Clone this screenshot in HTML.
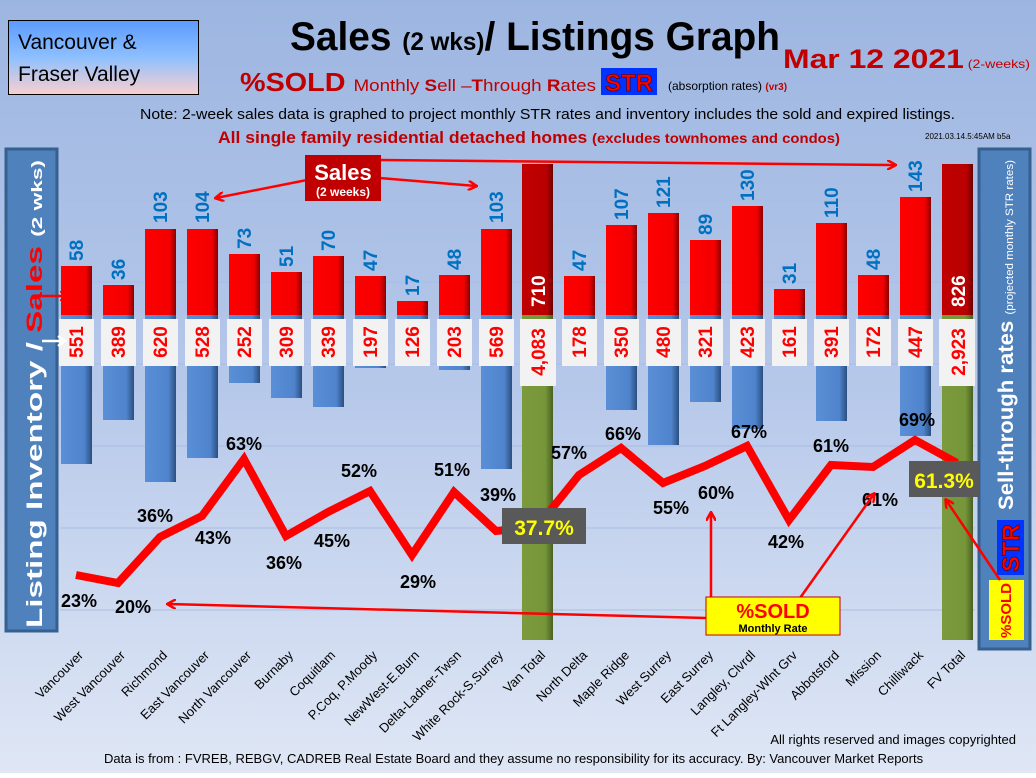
<!DOCTYPE html>
<html><head><meta charset="utf-8"><style>
html,body{margin:0;padding:0;}
body{width:1036px;height:773px;overflow:hidden;font-family:"Liberation Sans",sans-serif;}
</style></head><body>
<svg width="1036" height="773" viewBox="0 0 1036 773" xmlns="http://www.w3.org/2000/svg" font-family="Liberation Sans, sans-serif">
<defs>
<linearGradient id="bg" x1="0" y1="0" x2="0" y2="1"><stop offset="0" stop-color="#9db6e1"/><stop offset="0.5" stop-color="#b6c8ea"/><stop offset="1" stop-color="#dfe7f5"/></linearGradient>
<linearGradient id="tb" x1="0" y1="0" x2="0" y2="1"><stop offset="0" stop-color="#5b9bff"/><stop offset="0.5" stop-color="#8ec0ff"/><stop offset="1" stop-color="#fbcfcf"/></linearGradient>
<linearGradient id="rb" x1="0" y1="0" x2="1" y2="0"><stop offset="0" stop-color="#ff0000"/><stop offset="0.8" stop-color="#f20000"/><stop offset="1" stop-color="#8a0000"/></linearGradient>
<linearGradient id="db" x1="0" y1="0" x2="1" y2="0"><stop offset="0" stop-color="#c00000"/><stop offset="0.8" stop-color="#b80000"/><stop offset="1" stop-color="#6a0000"/></linearGradient>
<linearGradient id="bb" x1="0" y1="0" x2="1" y2="0"><stop offset="0" stop-color="#5a8fd6"/><stop offset="0.75" stop-color="#4f84cc"/><stop offset="1" stop-color="#2b4f80"/></linearGradient>
<linearGradient id="gb" x1="0" y1="0" x2="1" y2="0"><stop offset="0" stop-color="#7a9a3c"/><stop offset="0.75" stop-color="#76963a"/><stop offset="1" stop-color="#4a6020"/></linearGradient>
<marker id="ah" markerWidth="10" markerHeight="10" refX="8" refY="5" orient="auto" markerUnits="userSpaceOnUse"><path d="M0,0 L9,5 L0,10" fill="none" stroke="#ff0000" stroke-width="2.5"/></marker>
</defs>
<rect width="1036" height="773" fill="url(#bg)"/>
<g stroke="#a9bde3" stroke-width="1">
<line x1="60" y1="200" x2="975" y2="200"/><line x1="60" y1="282" x2="975" y2="282"/><line x1="60" y1="364" x2="975" y2="364"/><line x1="60" y1="446" x2="975" y2="446"/><line x1="60" y1="528" x2="975" y2="528"/><line x1="60" y1="610" x2="975" y2="610"/>
</g>
<rect x="8.5" y="20.5" width="190" height="74" fill="url(#tb)" stroke="#000"/>
<text x="18" y="49" font-size="21">Vancouver &amp;</text>
<text x="18" y="81" font-size="21">Fraser Valley</text>
<text x="290" y="50" font-size="40" font-weight="bold" textLength="490" lengthAdjust="spacingAndGlyphs">Sales <tspan font-size="25">(2 wks)</tspan>/ Listings Graph</text>
<text x="783" y="68" font-size="27" font-weight="bold" fill="#c00000" textLength="247" lengthAdjust="spacingAndGlyphs">Mar  12 2021<tspan font-size="12" font-weight="normal"> (2-weeks)</tspan></text>
<text x="240" y="91" font-size="26" font-weight="bold" fill="#c00000" textLength="356" lengthAdjust="spacingAndGlyphs">%SOLD <tspan font-size="17" font-weight="normal">Monthly <tspan font-weight="bold">S</tspan>ell –<tspan font-weight="bold">T</tspan>hrough <tspan font-weight="bold">R</tspan>ates</tspan></text>
<rect x="601" y="68" width="56" height="27" fill="#0033ff"/>
<text x="629" y="91" font-size="24" font-weight="bold" fill="#ff0000" stroke="#400" stroke-width="0.6" text-anchor="middle">STR</text>
<text x="668" y="90" font-size="12">(absorption rates) <tspan fill="#c00000" font-size="10" font-weight="bold">(vr3)</tspan></text>
<text x="140" y="119" font-size="14.5" textLength="815" lengthAdjust="spacingAndGlyphs">Note: 2-week sales data is graphed to project monthly STR rates and inventory includes the sold and expired listings.</text>
<text x="218" y="143" font-size="16.5" font-weight="bold" fill="#c00000" textLength="622" lengthAdjust="spacingAndGlyphs">All single family residential detached homes <tspan font-size="14">(excludes townhomes and condos)</tspan></text>
<text x="925" y="139" font-size="8">2021.03.14.5:45AM b5a</text>
<rect x="6" y="149" width="51" height="482" fill="#4f81bd" stroke="#36608f" stroke-width="3"/>
<text transform="translate(42,394) rotate(-90)" font-size="22" font-weight="bold" fill="#fff" text-anchor="middle" textLength="468" lengthAdjust="spacingAndGlyphs">Listing Inventory / <tspan fill="#ff0000">Sales</tspan> <tspan font-size="15">(2  wks)</tspan></text>
<rect x="979" y="149" width="51" height="500" fill="#4f81bd" stroke="#36608f" stroke-width="3"/>
<text transform="translate(1013,510) rotate(-90)" font-size="21" font-weight="bold" fill="#fff" textLength="350" lengthAdjust="spacingAndGlyphs">Sell-through rates <tspan font-size="11" font-weight="normal">(projected monthly STR rates)</tspan></text>
<rect x="997" y="520" width="27" height="55" fill="#0033ff"/>
<text transform="translate(1019,572) rotate(-90)" font-size="24" font-weight="bold" fill="#ff0000" stroke="#400" stroke-width="0.6">STR</text>
<rect x="989" y="580" width="35" height="60" fill="#ffff00"/>
<text transform="translate(1011,638) rotate(-90)" font-size="15" font-weight="bold" fill="#ff0000">%SOLD</text>

<g fill="url(#bb)">
<rect x="61" y="315" width="31" height="149"/><rect x="103" y="315" width="31" height="105"/><rect x="145" y="315" width="31" height="167"/><rect x="187" y="315" width="31" height="143"/><rect x="229" y="315" width="31" height="68"/><rect x="271" y="315" width="31" height="83"/><rect x="313" y="315" width="31" height="92"/><rect x="355" y="315" width="31" height="53"/><rect x="397" y="315" width="31" height="34"/><rect x="439" y="315" width="31" height="55"/><rect x="481" y="315" width="31" height="154"/>
<rect x="564" y="315" width="31" height="48"/><rect x="606" y="315" width="31" height="95"/><rect x="648" y="315" width="31" height="130"/><rect x="690" y="315" width="31" height="87"/><rect x="732" y="315" width="31" height="114"/><rect x="774" y="315" width="31" height="43"/><rect x="816" y="315" width="31" height="106"/><rect x="858" y="315" width="31" height="46"/><rect x="900" y="315" width="31" height="121"/>
</g>
<rect x="522" y="315" width="31" height="325" fill="url(#gb)"/>
<rect x="942" y="315" width="31" height="325" fill="url(#gb)"/>
<g fill="url(#rb)">
<rect x="61" y="266" width="31" height="49"/><rect x="103" y="285" width="31" height="30"/><rect x="145" y="229" width="31" height="86"/><rect x="187" y="229" width="31" height="86"/><rect x="229" y="254" width="31" height="61"/><rect x="271" y="272" width="31" height="43"/><rect x="313" y="256" width="31" height="59"/><rect x="355" y="276" width="31" height="39"/><rect x="397" y="301" width="31" height="14"/><rect x="439" y="275" width="31" height="40"/><rect x="481" y="229" width="31" height="86"/>
<rect x="564" y="276" width="31" height="39"/><rect x="606" y="225" width="31" height="90"/><rect x="648" y="213" width="31" height="102"/><rect x="690" y="240" width="31" height="75"/><rect x="732" y="206" width="31" height="109"/><rect x="774" y="289" width="31" height="26"/><rect x="816" y="223" width="31" height="92"/><rect x="858" y="275" width="31" height="40"/><rect x="900" y="197" width="31" height="118"/>
</g>
<rect x="522" y="164" width="31" height="151" fill="url(#db)"/>
<rect x="942" y="164" width="31" height="151" fill="url(#db)"/>
<g font-size="19" font-weight="bold" fill="#0070c0">
<text transform="translate(83,261) rotate(-90)">58</text>
<text transform="translate(125,280) rotate(-90)">36</text>
<text transform="translate(167,223) rotate(-90)">103</text>
<text transform="translate(209,223) rotate(-90)">104</text>
<text transform="translate(251,249) rotate(-90)">73</text>
<text transform="translate(293,267) rotate(-90)">51</text>
<text transform="translate(335,251) rotate(-90)">70</text>
<text transform="translate(377,271) rotate(-90)">47</text>
<text transform="translate(419,296) rotate(-90)">17</text>
<text transform="translate(461,270) rotate(-90)">48</text>
<text transform="translate(503,223) rotate(-90)">103</text>
<text transform="translate(586,271) rotate(-90)">47</text>
<text transform="translate(628,220) rotate(-90)">107</text>
<text transform="translate(670,208) rotate(-90)">121</text>
<text transform="translate(712,235) rotate(-90)">89</text>
<text transform="translate(754,201) rotate(-90)">130</text>
<text transform="translate(796,284) rotate(-90)">31</text>
<text transform="translate(838,218) rotate(-90)">110</text>
<text transform="translate(880,270) rotate(-90)">48</text>
<text transform="translate(922,192) rotate(-90)">143</text>
</g>
<g font-size="19" font-weight="bold" fill="#fff">
<text transform="translate(545,307) rotate(-90)">710</text>
<text transform="translate(965,307) rotate(-90)">826</text>
</g>
<g fill="#f2f2f2">
<rect x="59" y="319" width="35" height="47"/><rect x="101" y="319" width="35" height="47"/><rect x="143" y="319" width="35" height="47"/><rect x="185" y="319" width="35" height="47"/><rect x="227" y="319" width="35" height="47"/><rect x="269" y="319" width="35" height="47"/><rect x="311" y="319" width="35" height="47"/><rect x="353" y="319" width="35" height="47"/><rect x="395" y="319" width="35" height="47"/><rect x="437" y="319" width="35" height="47"/><rect x="479" y="319" width="35" height="47"/>
<rect x="520" y="319" width="36" height="67"/>
<rect x="562" y="319" width="35" height="47"/><rect x="604" y="319" width="35" height="47"/><rect x="646" y="319" width="35" height="47"/><rect x="688" y="319" width="35" height="47"/><rect x="730" y="319" width="35" height="47"/><rect x="772" y="319" width="35" height="47"/><rect x="814" y="319" width="35" height="47"/><rect x="856" y="319" width="35" height="47"/><rect x="898" y="319" width="35" height="47"/>
<rect x="939" y="319" width="36" height="67"/>
</g>
<g font-size="19" font-weight="bold" fill="#ff0000" text-anchor="middle">
<text transform="translate(83,342) rotate(-90)">551</text>
<text transform="translate(125,342) rotate(-90)">389</text>
<text transform="translate(167,342) rotate(-90)">620</text>
<text transform="translate(209,342) rotate(-90)">528</text>
<text transform="translate(251,342) rotate(-90)">252</text>
<text transform="translate(293,342) rotate(-90)">309</text>
<text transform="translate(335,342) rotate(-90)">339</text>
<text transform="translate(377,342) rotate(-90)">197</text>
<text transform="translate(419,342) rotate(-90)">126</text>
<text transform="translate(461,342) rotate(-90)">203</text>
<text transform="translate(503,342) rotate(-90)">569</text>
<text transform="translate(545,352) rotate(-90)">4,083</text>
<text transform="translate(586,342) rotate(-90)">178</text>
<text transform="translate(628,342) rotate(-90)">350</text>
<text transform="translate(670,342) rotate(-90)">480</text>
<text transform="translate(712,342) rotate(-90)">321</text>
<text transform="translate(754,342) rotate(-90)">423</text>
<text transform="translate(796,342) rotate(-90)">161</text>
<text transform="translate(838,342) rotate(-90)">391</text>
<text transform="translate(880,342) rotate(-90)">172</text>
<text transform="translate(922,342) rotate(-90)">447</text>
<text transform="translate(965,352) rotate(-90)">2,923</text>
</g>
<line x1="42" y1="296" x2="68" y2="296" stroke="#ff0000" stroke-width="2.5" marker-end="url(#ah)"/>
<line x1="42" y1="341" x2="64" y2="341" stroke="#fff" stroke-width="2.5"/>
<path d="M58,336 L65,341 L58,346" fill="none" stroke="#fff" stroke-width="2.5"/>
<polyline points="76,575 118,583 160,537 202,516 244,459 286,536 328,512 370,491 412,555 454,492 496,531 537,527 579,475 621,448 663,483 705,466 747,446 789,520 831,465 873,467 915,440 957,463" fill="none" stroke="#ff0000" stroke-width="8" stroke-linejoin="miter"/>
<g font-size="18" font-weight="bold" fill="#000" text-anchor="middle">
<text x="79" y="607">23%</text><text x="133" y="613">20%</text><text x="155" y="522">36%</text><text x="213" y="544">43%</text><text x="244" y="450">63%</text><text x="284" y="569">36%</text><text x="332" y="547">45%</text><text x="359" y="477">52%</text><text x="418" y="588">29%</text><text x="452" y="476">51%</text><text x="498" y="501">39%</text>
<text x="569" y="459">57%</text><text x="623" y="440">66%</text><text x="671" y="514">55%</text><text x="716" y="499">60%</text><text x="749" y="438">67%</text><text x="786" y="548">42%</text><text x="831" y="452">61%</text><text x="880" y="506">61%</text><text x="917" y="426">69%</text>
</g>
<rect x="502" y="508" width="84" height="36" fill="#595959"/>
<text x="544" y="535" font-size="21" font-weight="bold" fill="#ffff00" text-anchor="middle">37.7%</text>
<rect x="909" y="461" width="70" height="36" fill="#595959"/>
<text x="944" y="488" font-size="21" font-weight="bold" fill="#ffff00" text-anchor="middle">61.3%</text>
<line x1="307" y1="180" x2="216" y2="198" stroke="#ff0000" stroke-width="2.5" marker-end="url(#ah)"/>
<line x1="380" y1="178" x2="476" y2="186" stroke="#ff0000" stroke-width="2.5" marker-end="url(#ah)"/>
<line x1="380" y1="160" x2="895" y2="165" stroke="#ff0000" stroke-width="2.5" marker-end="url(#ah)"/>
<rect x="305" y="155" width="76" height="46" fill="#c00000"/>
<text x="343" y="180" font-size="22" font-weight="bold" fill="#fff" text-anchor="middle">Sales</text>
<text x="343" y="196" font-size="12" font-weight="bold" fill="#fff" text-anchor="middle">(2 weeks)</text>
<line x1="706" y1="618" x2="168" y2="604" stroke="#ff0000" stroke-width="2.5" marker-end="url(#ah)"/>
<line x1="711" y1="598" x2="711" y2="513" stroke="#ff0000" stroke-width="2.5" marker-end="url(#ah)"/>
<line x1="800" y1="598" x2="874" y2="494" stroke="#ff0000" stroke-width="2.5" marker-end="url(#ah)"/>
<line x1="1000" y1="580" x2="946" y2="500" stroke="#ff0000" stroke-width="2.5" marker-end="url(#ah)"/>
<rect x="706" y="597" width="134" height="38" fill="#ffff00" stroke="#c00000" stroke-width="1"/>
<text x="773" y="618" font-size="20" font-weight="bold" fill="#ff0000" text-anchor="middle">%SOLD</text>
<text x="773" y="632" font-size="11" font-weight="bold" fill="#000" text-anchor="middle">Monthly Rate</text>
<g font-size="13" fill="#000" text-anchor="end">
<text transform="translate(84,656) rotate(-45)">Vancouver</text>
<text transform="translate(126,656) rotate(-45)">West Vancouver</text>
<text transform="translate(168,656) rotate(-45)">Richmond</text>
<text transform="translate(210,656) rotate(-45)">East Vancouver</text>
<text transform="translate(252,656) rotate(-45)">North Vancouver</text>
<text transform="translate(294,656) rotate(-45)">Burnaby</text>
<text transform="translate(336,656) rotate(-45)">Coquitlam</text>
<text transform="translate(378,656) rotate(-45)">P.Coq, P.Moody</text>
<text transform="translate(420,656) rotate(-45)">NewWest-E.Burn</text>
<text transform="translate(462,656) rotate(-45)">Delta-Ladner-Twsn</text>
<text transform="translate(504,656) rotate(-45)">White Rock-S.Surrey</text>
<text transform="translate(546,656) rotate(-45)">Van Total</text>
<text transform="translate(588,656) rotate(-45)">North Delta</text>
<text transform="translate(630,656) rotate(-45)">Maple Ridge</text>
<text transform="translate(672,656) rotate(-45)">West Surrey</text>
<text transform="translate(714,656) rotate(-45)">East Surrey</text>
<text transform="translate(756,656) rotate(-45)">Langley, Clvrdl</text>
<text transform="translate(798,656) rotate(-45)">Ft Langley-Wlnt Grv</text>
<text transform="translate(840,656) rotate(-45)">Abbotsford</text>
<text transform="translate(882,656) rotate(-45)">Mission</text>
<text transform="translate(924,656) rotate(-45)">Chilliwack</text>
<text transform="translate(966,656) rotate(-45)">FV Total</text>
</g>
<text x="1016" y="744" font-size="13" text-anchor="end">All rights reserved and  images copyrighted</text>
<text x="104" y="763" font-size="13">Data is from : FVREB, REBGV, CADREB Real Estate Board and they assume no responsibility for its accuracy. By: Vancouver Market Reports</text>
</svg>
</body></html>
